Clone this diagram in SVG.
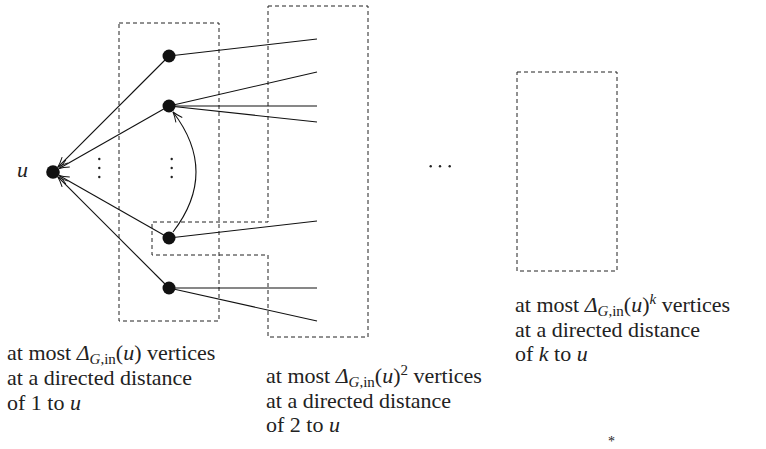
<svg xmlns="http://www.w3.org/2000/svg" width="766" height="449" viewBox="0 0 766 449">
<defs>
<marker id="ah" markerUnits="userSpaceOnUse" markerWidth="12" markerHeight="10" refX="0" refY="0" orient="auto" overflow="visible">
<path d="M-10,-4 Q-4,-1 0,0 Q-4,1 -10,4" fill="none" stroke="#111" stroke-width="1"/>
</marker>
</defs>
<g id="boxes" fill="none" stroke="#222" stroke-width="1" stroke-dasharray="4 3">
<rect id="box1" x="119" y="23" width="100" height="298"/>
<path id="box2" d="M268,6 H368 V337 H268 V255 H152 V222 H268 Z"/>
<rect id="boxk" x="517" y="72" width="100" height="199"/>
</g>
<g id="connectors" fill="none" stroke="#111" stroke-width="1.1">
<g marker-end="url(#ah)">
<line x1="169" y1="56" x2="57.9" y2="167.1"/>
<line x1="169" y1="106" x2="59.1" y2="168.5"/>
<line x1="169" y1="238" x2="59.1" y2="175.5"/>
<line x1="169" y1="288" x2="57.9" y2="176.9"/>
<path d="M173,232 Q219,172 173,112"/>
</g>
<line x1="169" y1="56" x2="317" y2="39"/>
<line x1="169" y1="106" x2="317" y2="72"/>
<line x1="169" y1="106" x2="317" y2="106"/>
<line x1="169" y1="106" x2="317" y2="122"/>
<line x1="169" y1="238" x2="317" y2="221"/>
<line x1="169" y1="288" x2="317" y2="288"/>
<line x1="169" y1="288" x2="317" y2="321"/>
</g>
<g id="node-u">
<circle cx="53" cy="172" r="6.8" fill="#111"/>
<text x="17" y="177" font-family="Liberation Serif" font-size="22" font-style="italic" fill="#222">u</text>
</g>
<g id="node-1"><circle cx="169" cy="56" r="6.5" fill="#111"/></g>
<g id="node-2"><circle cx="169" cy="106" r="6.5" fill="#111"/></g>
<g id="node-3"><circle cx="169" cy="238" r="6.5" fill="#111"/></g>
<g id="node-4"><circle cx="169" cy="288" r="6.5" fill="#111"/></g>
<g id="ellipses" fill="#222">
<circle cx="99.3" cy="159" r="1.2"/>
<circle cx="99.3" cy="168" r="1.2"/>
<circle cx="99.3" cy="177" r="1.2"/>
<circle cx="171.7" cy="159" r="1.2"/>
<circle cx="171.7" cy="168" r="1.2"/>
<circle cx="171.7" cy="177" r="1.2"/>
<circle cx="430.7" cy="166.3" r="1.2"/>
<circle cx="440" cy="166.3" r="1.2"/>
<circle cx="449.7" cy="166.3" r="1.2"/>
</g>
<g id="label-1" font-family="Liberation Serif" font-size="22" fill="#222">
<text x="7" y="360" font-family="Liberation Serif">at most <tspan font-style="italic">Δ</tspan><tspan font-style="italic" font-size="15" dy="4">G</tspan><tspan font-size="15">,in</tspan><tspan dy="-4">(</tspan><tspan font-style="italic">u</tspan>) vertices</text>
<text x="7" y="385" font-family="Liberation Serif">at a directed distance</text>
<text x="7" y="410" font-family="Liberation Serif">of 1 to <tspan font-style="italic">u</tspan></text>
</g>
<g id="label-2" font-family="Liberation Serif" font-size="22" fill="#222">
<text x="266" y="383" font-family="Liberation Serif">at most <tspan font-style="italic">Δ</tspan><tspan font-style="italic" font-size="15" dy="4">G</tspan><tspan font-size="15">,in</tspan><tspan dy="-4">(</tspan><tspan font-style="italic">u</tspan>)<tspan font-size="15" dy="-8">2</tspan><tspan dy="8"> vertices</tspan></text>
<text x="266" y="408" font-family="Liberation Serif">at a directed distance</text>
<text x="266" y="432" font-family="Liberation Serif">of 2 to <tspan font-style="italic">u</tspan></text>
</g>
<g id="label-k" font-family="Liberation Serif" font-size="22" fill="#222">
<text x="515" y="312" font-family="Liberation Serif">at most <tspan font-style="italic">Δ</tspan><tspan font-style="italic" font-size="15" dy="4">G</tspan><tspan font-size="15">,in</tspan><tspan dy="-4">(</tspan><tspan font-style="italic">u</tspan>)<tspan font-style="italic" font-size="15" dy="-8">k</tspan><tspan dy="8"> vertices</tspan></text>
<text x="515" y="337" font-family="Liberation Serif">at a directed distance</text>
<text x="515" y="361" font-family="Liberation Serif">of <tspan font-style="italic">k</tspan> to <tspan font-style="italic">u</tspan></text>
</g>
<g id="footnote">
<text x="608" y="446" font-family="Liberation Serif" font-size="14" fill="#222">*</text>
</g>
</svg>
